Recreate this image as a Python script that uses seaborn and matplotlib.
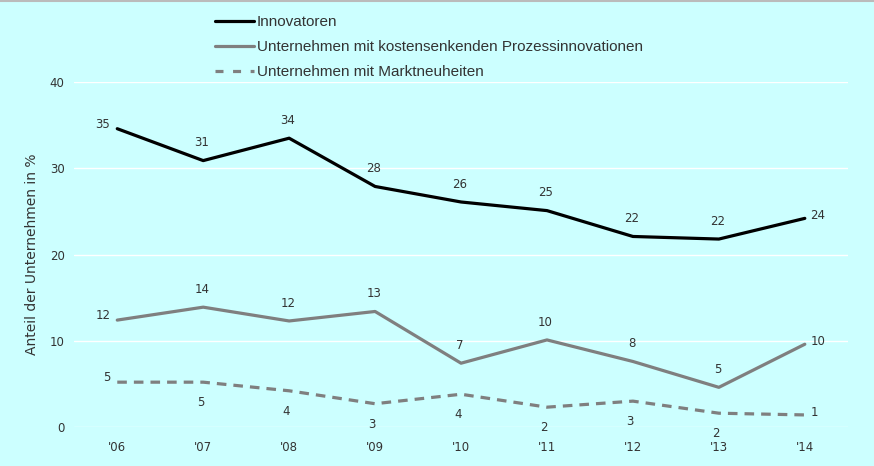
import matplotlib
matplotlib.use('Agg')
import matplotlib.pyplot as plt
from matplotlib.lines import Line2D
import seaborn as sns
import pandas as pd

jahre = ["'06", "'07", "'08", "'09", "'10", "'11", "'12", "'13", "'14"]
innovatoren = [34.6, 30.9, 33.5, 27.9, 26.1, 25.1, 22.1, 21.8, 24.2]
prozess = [12.4, 13.9, 12.3, 13.4, 7.4, 10.1, 7.6, 4.6, 9.6]
markt = [5.2, 5.2, 4.2, 2.7, 3.8, 2.3, 3.0, 1.6, 1.4]

serien = ['Innovatoren',
          'Unternehmen mit kostensenkenden Prozessinnovationen',
          'Unternehmen mit Marktneuheiten']

bg = '#ccffff'
txt = '#333333'

df = pd.DataFrame({
    'Jahr': jahre * 3,
    'x': list(range(len(jahre))) * 3,
    'Wert': innovatoren + prozess + markt,
    'Serie': [serien[0]] * 9 + [serien[1]] * 9 + [serien[2]] * 9,
})

sns.set_style('white')
plt.rcParams['font.family'] = ['DejaVu Sans']

fig = plt.figure(figsize=(8.74, 4.66), dpi=100, facecolor=bg)
ax = fig.add_axes([0.085, 0.0837, 0.885, 0.740])
ax.set_facecolor(bg)

farben = {serien[0]: '#000000', serien[1]: '#7f7f7f', serien[2]: '#7f7f7f'}
striche = {serien[0]: '', serien[1]: '', serien[2]: (3, 2.2)}
sns.lineplot(data=df, x='x', y='Wert', hue='Serie', style='Serie',
             palette=farben, dashes=striche, linewidth=2.3, ax=ax, legend=False)

ax.set_xlim(-0.5, len(jahre) - 0.5)
ax.set_ylim(0, 40)
ax.set_yticks([0, 10, 20, 30, 40])
ax.set_xticks(range(len(jahre)))
ax.set_xticklabels(jahre)
ax.tick_params(axis='both', length=0, labelsize=8.5, colors=txt)
ax.tick_params(axis='x', pad=10)
ax.tick_params(axis='y', pad=7)
ax.yaxis.grid(True, color='white', linewidth=1)
ax.xaxis.grid(False)
for s in ax.spines.values():
    s.set_visible(False)
ax.set_xlabel('')
ax.set_ylabel('Anteil der Unternehmen in %', fontsize=10, color=txt, labelpad=8)

# Datenbeschriftungen
def beschriften(werte, unten=False):
    n = len(werte)
    for i, v in enumerate(werte):
        lab = f'{v:.0f}'
        if i == 0:
            ax.annotate(lab, (i, v), xytext=(-5, 3), textcoords='offset points',
                        ha='right', va='center', fontsize=8.5, color=txt)
        elif i == n - 1:
            ax.annotate(lab, (i, v), xytext=(4, 2), textcoords='offset points',
                        ha='left', va='center', fontsize=8.5, color=txt)
        elif unten:
            ax.annotate(lab, (i, v), xytext=(-2, -10), textcoords='offset points',
                        ha='center', va='top', fontsize=8.5, color=txt)
        else:
            ax.annotate(lab, (i, v), xytext=(-1, 8), textcoords='offset points',
                        ha='center', va='bottom', fontsize=8.5, color=txt)

beschriften(innovatoren)
beschriften(prozess)
beschriften(markt, unten=True)

handles = [Line2D([], [], color='#000000', lw=2.3),
           Line2D([], [], color='#7f7f7f', lw=2.3),
           Line2D([], [], color='#7f7f7f', lw=2.3, dashes=(2.5, 3))]
fig.legend(handles, serien, loc='upper left', bbox_to_anchor=(0.246, 0.968),
           frameon=False, borderpad=0, borderaxespad=0,
           handlelength=2.55, handletextpad=0.2, labelspacing=0.72,
           prop={'family': 'Liberation Sans', 'size': 11}, labelcolor=txt)

fig.add_artist(Line2D([0, 1], [0.998, 0.998], color='#bbbbbb', lw=1.5,
                      transform=fig.transFigure))

fig.savefig('out.png', dpi=100, facecolor=bg)
